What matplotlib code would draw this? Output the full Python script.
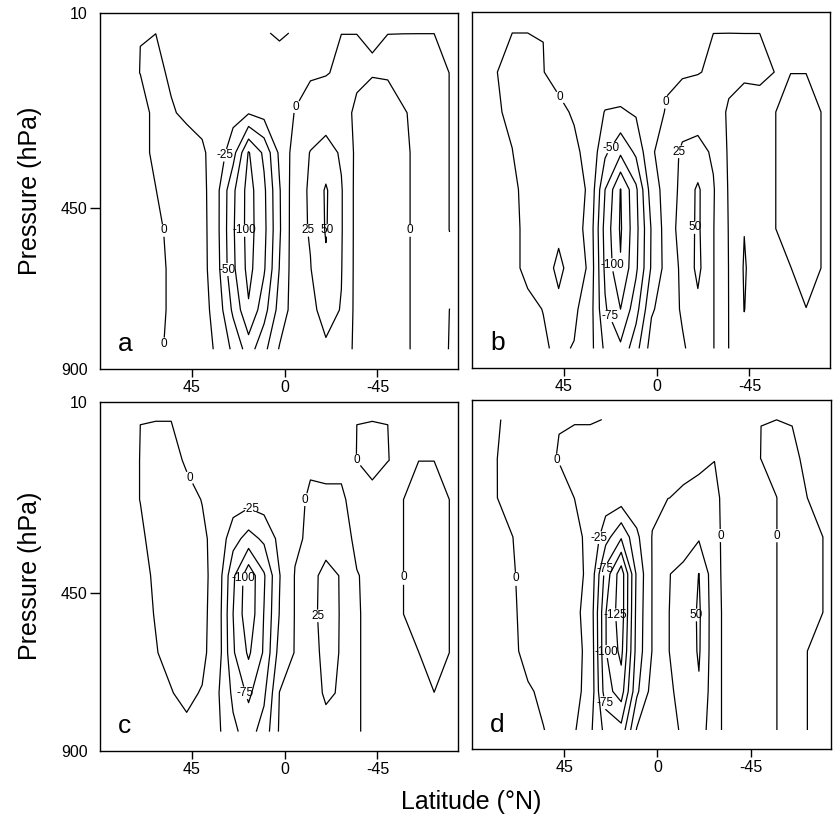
import numpy as np
import matplotlib.pyplot as plt

plt.rcParams['font.family'] = ['Liberation Sans', 'DejaVu Sans']
plt.rcParams['axes.unicode_minus'] = False
plt.rcParams['contour.negative_linestyle'] = 'solid'

# model grid: latitude columns (north -> south) and pressure levels (hPa)
LAT = [77.5, 70, 62.5, 55, 47.5, 40, 32.5, 25, 17.5, 10, 2.5, -5, -12.5,
       -20, -27.5, -35, -42.5, -50, -57.5, -65, -72.5, -80]
PLEV = [55, 145, 235, 325, 410, 510, 620, 735, 845]

LEVELS = [-125, -100, -75, -50, -25, 0, 25, 50]

# pressure axis: tick values and where they sit on the axis (0 = top)
P_TICKS = [10, 450, 900]
P_FRAC = [0.0, 0.548, 1.0]

# streamfunction, one list per latitude column (top level first)
PSI_A = [
    [-0.05, -2, -4, -5, -5, -5, -5, -5, -4],
    [-0.05, 0.1, -3, -3, -4, -5, -5, -5, -4],
    [-0.05, 2.5, 2, 2, -0.2, -3, -4, -4, -3],
    [-0.05, -1.5, 1, 4, 5, 3, 2, 2, 3],
    [-0.5, -3, -2, 5, 8, 7, 6, 7, 8],
    [-0.5, -5, -6, 3, 8, 9, 9, 9, 10],
    [-0.5, -6, -12, -10, -20, -20, -18, -10, -4],
    [-1, -8, -16, -40, -70, -72, -70, -55, -30],
    [-1, -10, -23, -102, -110, -110, -108, -97, -62],
    [-1, -8, -16, -70, -80, -82, -78, -60, -32],
    [1.5, -6, -8, -20, -27, -28, -24, -15, 2],
    [-1, -4, 0.5, 10, 15, 16, 15, 12, 10],
    [-0.8, -2, 8, 26, 28, 27, 24, 20, 14],
    [-0.5, -1, 12, 35, 53, 52, 46, 32, 22],
    [-0.1, 3, 6, 22, 27, 27, 26, 24, 16],
    [-0.1, 3, -3, -6, -8, -8, -8, -8, -7],
    [-1, 1, -8, -12, -12, -12, -12, -12, -10],
    [-0.1, 3, -14, -12, -12, -12, -12, -12, -10],
    [-0.1, 5, -1, -4, -4, -4, -4, -4, -4],
    [-0.1, 6, 3, 5, 5, 5, 5, 5, 5],
    [-0.1, 6, 6, 6, 6, 6, 6, 6, 6],
    [-0.5, -0.2, -0.2, -0.2, -0.2, -0.2, 3, -0.1, -0.5],
]

PSI_B = [
    [-0.1, -0.2, -1, -2, -3, -3, -3, -4, -4],
    [-0.1, 5, 2, -0.2, -2, -3, -3, -4, -4],
    [-0.1, 5, 6, 6, 3, 3, 3, -3, -4],
    [-0.1, 0.3, 6, 10, 12, 14, 21, 0.3, -2],
    [-0.1, -4, 3, 10, 14, 23, 27, 23, 3],
    [-0.1, -6, -1.5, 3, 8, 10, 21, 4, -1],
    [-0.1, -6, -10, -5, -3, -8, -6, -12, -15],
    [-0.1, -6, -26, -45, -75, -84, -80, -72, -55],
    [-0.1, -6, -28, -70, -126, -128, -123, -100, -70],
    [-0.1, -5, -22, -45, -80, -83, -80, -60, -34],
    [-0.1, -4, -10, -2, -12, -23, -22, -3, 11],
    [-0.1, -3, 2, 8, 10, 12, 10, 12, 11],
    [-0.1, -2, 10, 30, 32, 35, 30, 28, 22],
    [-0.1, -1, 15, 32, 54, 54, 56, 44, 36],
    [-0.1, 3, 8, 22, 27, 26, 26, 26, 26],
    [-0.1, 4, -2, -3, -2, -1, -0.5, -0.3, -0.2],
    [-0.1, 3, -8, -14, -20, -24.5, -27, -25.5, -18],
    [-0.1, 3, -6, -10, -10, -12, -12, -10, -8],
    [-0.1, -0.2, -0.2, -0.2, -0.2, -0.2, -0.2, -8, -8],
    [-0.1, -0.2, 5, 5, 5, 5, -0.2, -6, -6],
    [-0.1, -0.2, 5, 5, 5, 5, 5, -0.2, -5],
    [-0.1, -0.5, -0.2, -0.2, -0.2, -0.2, -0.2, -0.2, -3],
]

PSI_C = [
    [-0.01, -2, -2, -2, -3, -3, -3, -3, -3],
    [-0.01, 0.1, 0.1, -1, -2, -3, -3, -3, -3],
    [-0.01, 8, 6, 2, 1, 0.5, -0.5, -2, -3],
    [-0.01, 5, 8, 8, 8, 6, 3, -0.5, -3],
    [-0.01, -2, 5, 8, 9, 8, 6, 3, -3],
    [-0.1, -3, -0.5, 3, 5, 5, 4, -1, -5],
    [-0.1, -4, -8, -6, -8, -10, -10, -22, -20],
    [-0.1, -5, -12, -40, -70, -75, -72, -55, -45],
    [-0.1, -6, -15, -60, -117, -118, -104, -80, -60],
    [-0.1, -5, -12, -45, -78, -74, -72, -55, -40],
    [-0.1, -4, -8, -18, -26, -24, -15, 0.5, 3],
    [-0.1, -3, -4, -3, 1, 1, 1, 5, 8],
    [-0.1, -2, 2, 3, 20, 20, 18, 15, 10],
    [-0.1, -3, 2, 18, 30, 31, 30, 28, 18],
    [-0.1, -3, 2, 10, 24, 24, 24, 23, 20],
    [-0.01, 0.1, -5, -5, 1, 2, 2, 2, 2],
    [-0.01, 3, -3, -6, -5, -6, -6, -6, -6],
    [-0.01, 0.1, -3, -5, -5, -5, -5, -5, -5],
    [-0.1, -1, -0.1, -0.1, -0.1, -0.1, -0.1, -5, -5],
    [-0.1, -0.1, 5, 5, 5, 5, -0.1, -0.1, -5],
    [-0.1, -0.1, 5, 5, 5, 5, 5, -0.1, -5],
    [-0.1, -0.1, -0.1, -0.1, -0.1, -0.1, -0.1, -0.1, -3],
]

PSI_D = [
    [-0.1, -0.1, -0.1, -3, -3, -3, -3, -3, -3],
    [0.3, 4, 3, -0.1, -1, -1.5, -2, -2, -3],
    [0.3, 4, 5, 3, 4, 3.5, 3, -1, -3],
    [0.3, 2, 6, 6, 6, 5, 5, 1.6, -0.2],
    [0.3, -0.5, 4, 6, 6, 6, 6, 5, 3],
    [0.3, -2, -0.1, 3, 4, 4, 4, 3, 2],
    [0.3, -2, -6, -3, -3, -7, -4, -4, -20],
    [-0.1, -3, -12, -40, -85, -99, -99, -90, -58],
    [-0.1, -4, -11.7, -72, -140, -140, -132, -112, -67],
    [-0.1, -3, -8, -30, -45, -42, -40, -30, 2],
    [-0.1, -2, -5, 1, 1, 1, 1, 10, 12],
    [-0.1, -2, -0.2, 10, 24, 24.5, 24.5, 22, 18],
    [-0.1, -3, 1.5, 15, 30, 30, 30, 30, 28],
    [-0.1, -2, 3, 22, 50.5, 54, 53, 47, 38],
    [-0.1, -0.3, 4, 8, 9, 10, 10, 10, 10],
    [-0.1, -2, -8, -13, -13, -12, -12, -12, -12],
    [-0.1, -3, -8, -8, -8, -8, -8, -8, -8],
    [-0.02, 0.1, -6, -6, -6, -6, -6, -6, -6],
    [-0.02, 3, -0.1, -0.1, -0.1, -0.1, -0.1, -0.1, -0.1],
    [-0.02, 0.1, 5, 5, 5, 5, 5, 5, 5],
    [-0.1, -0.1, -0.1, 5, 5, 5, -0.1, -0.1, -0.1],
    [-0.1, -0.1, -0.1, -0.1, -0.1, -0.1, -0.1, -0.1, -0.1],
]

# contour labels: (level, latitude, pressure)
LABELS_A = [(-25, 29.7, 330), (-100, 19.5, 512), (-50, 29.7, 623), (0, 58.7, 512),
            (0, 59.5, 830), (0, -5.7, 222), (25, -11, 512), (50, -21, 512),
            (0, -59.4, 512)]
LABELS_B = [(0, 49, 208), (0, -3.6, 212), (-50, 25.3, 306), (25, -9.9, 323),
            (50, -17, 506), (-100, 25.3, 612), (-75, 26.3, 763)]
LABELS_C = [(0, 48.6, 191), (-25, 16.7, 259), (-100, 20.3, 416), (25, -14.5, 515),
            (-75, 20, 736), (0, -34.2, 146), (0, -8.8, 234), (0, -57.1, 414)]
LABELS_D = [(0, 68.6, 420), (0, 49.2, 150), (-25, 31.5, 324), (-75, 26.6, 397),
            (-125, 21.8, 517), (-100, 25, 622), (-75, 27.4, 769), (0, -27.4, 322),
            (0, -56.5, 322), (50, -15.3, 517)]


def p_fwd(p):
    return np.interp(p, P_TICKS, P_FRAC)


def p_inv(f):
    return np.interp(f, P_FRAC, P_TICKS)


def label_spacing(text):
    # labels stay upright on near-vertical lines: cut a gap about one text height
    w = sum(3.9 if ch == '-' else 6.6 for ch in text)
    return (13 - w) / 2


fig = plt.figure(figsize=(8.34, 8.18), dpi=100)

panels = [
    ('a', PSI_A, LABELS_A, [0.120, 0.549, 0.429, 0.435], True),
    ('b', PSI_B, LABELS_B, [0.566, 0.550, 0.429, 0.435], False),
    ('c', PSI_C, LABELS_C, [0.120, 0.082, 0.429, 0.427], True),
    ('d', PSI_D, LABELS_D, [0.566, 0.084, 0.431, 0.427], False),
]

for letter, psi, labels, rect, left in panels:
    ax = fig.add_axes(rect)
    ax.set_yscale('function', functions=(p_fwd, p_inv))
    ax.set_xlim(89.5, -84)
    ax.set_ylim(900, 10)

    z = np.array(psi).T
    # one contour set per level, so each label lands on its own line
    sets = {}
    for lev in LEVELS:
        if z.min() < lev < z.max():
            sets[lev] = ax.contour(LAT, PLEV, z, levels=[lev],
                                   colors='k', linewidths=0.9)
    for lev, la, pp in labels:
        texts = sets[lev].clabel(manual=[(la, pp)], fmt=lambda v: f'{v:.0f}',
                                 fontsize=8.5, inline=True,
                                 inline_spacing=label_spacing(f'{lev}'))
        for t in texts:
            t.set_rotation(0)

    ax.set_xticks([45, 0, -45], ['45', '0', '-45'])
    ax.tick_params(axis='x', direction='out', length=6, width=1,
                   labelsize=11.5, pad=2)
    if left:
        ax.set_yticks(P_TICKS, ['10', '450', '900'])
        ax.tick_params(axis='y', direction='out', length=7, width=1,
                       labelsize=11.5, pad=2)
        for t in ax.yaxis.get_major_ticks():
            if t.get_loc() != 450:
                t.tick1line.set_visible(False)
        ax.set_ylabel('Pressure (hPa)', fontsize=18)
        ax.yaxis.set_label_coords(-0.162, 0.5)
    else:
        ax.set_yticks([])
    for s in ax.spines.values():
        s.set_linewidth(1.0)
    ax.text(0.05, 0.05, letter, transform=ax.transAxes, fontsize=19,
            ha='left', va='baseline')

fig.text(0.565, 0.02, 'Latitude (°N)', ha='center', va='center', fontsize=18)

fig.savefig('out.png', dpi=100)
